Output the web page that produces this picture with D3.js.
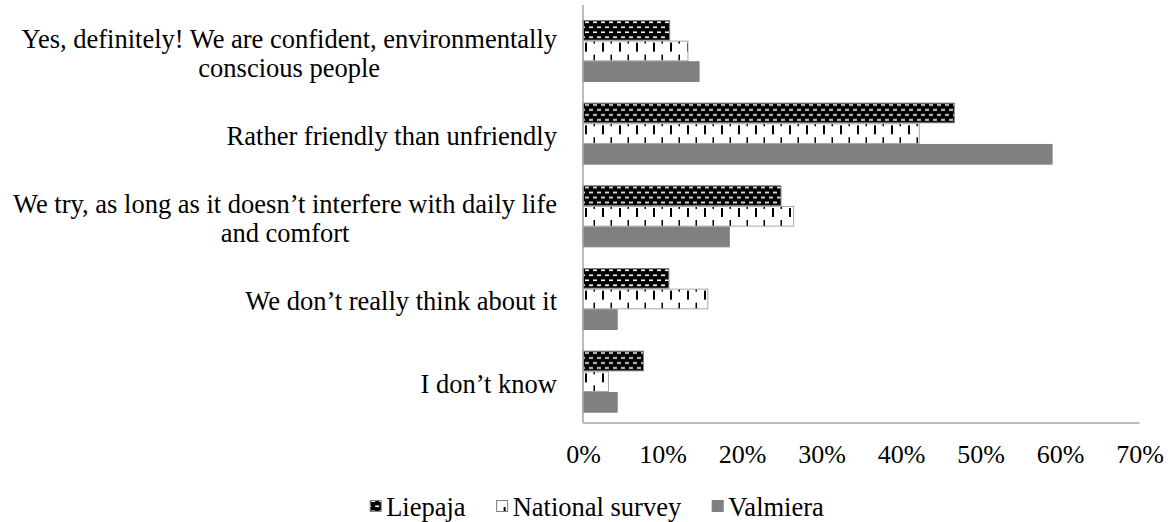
<!DOCTYPE html>
<html>
<head>
<meta charset="utf-8">
<script src="https://cdn.jsdelivr.net/npm/d3@7"></script>
<style>
  html, body { margin: 0; padding: 0; background: #fff; }
  svg { display: block; }
</style>
</head>
<body>
<svg id="chart" width="1168" height="522"></svg>
<script>
// Answer categories, top to bottom (each entry is a list of text lines)
const categories = [
  ["Yes, definitely! We are confident, environmentally", "conscious people"],
  ["Rather friendly than unfriendly"],
  ["We try, as long as it doesn\u2019t interfere with daily life", "and comfort"],
  ["We don\u2019t really think about it"],
  ["I don\u2019t know"]
];
const seriesNames = ["Liepaja", "National survey", "Valmiera"];
// Shares of respondents, in percent
const liepaja  = [10.9, 46.7, 24.9, 10.8, 7.6];
const national = [13.2, 42.3, 26.5, 15.7, 3.2];
const valmiera = [14.6, 59.0, 18.4, 4.3, 4.3];
const xTicks = [0, 10, 20, 30, 40, 50, 60, 70];

const seriesValues = [liepaja, national, valmiera];
const FONT = "'Liberation Serif', 'Times New Roman', Tinos, 'DejaVu Serif', serif";

const svg = d3.select("#chart").style("font-family", FONT);
const defs = svg.append("defs");

const plot = { left: 583, right: 1139.5, top: 9.6, bottom: 423 };

const x = d3.scaleLinear().domain([0, 70]).range([plot.left, plot.right]);
const y = d3.scaleBand().domain(d3.range(categories.length))
  .range([plot.top, plot.bottom]).paddingInner(0.25).paddingOuter(0.125);
const ys = d3.scaleBand().domain(d3.range(seriesNames.length))
  .range([0, y.bandwidth()]);

// Fill patterns: white dashes on black (brick-like) and black dashes on white
function brickPattern(id, offY) {
  const p = defs.append("pattern").attr("id", id)
    .attr("patternUnits", "userSpaceOnUse")
    .attr("x", 0).attr("y", offY).attr("width", 8).attr("height", 10);
  p.append("rect").attr("width", 8).attr("height", 10).attr("fill", "#000");
  p.append("rect").attr("x", 1).attr("y", 1.5).attr("width", 4).attr("height", 1.6).attr("fill", "#fff");
  p.append("rect").attr("x", 5).attr("y", 6.5).attr("width", 3).attr("height", 1.6).attr("fill", "#fff");
  p.append("rect").attr("x", 0).attr("y", 6.5).attr("width", 1).attr("height", 1.6).attr("fill", "#fff");
}
function dashPattern(id, offY) {
  const p = defs.append("pattern").attr("id", id)
    .attr("patternUnits", "userSpaceOnUse")
    .attr("x", 0).attr("y", offY).attr("width", 17).attr("height", 20);
  p.append("rect").attr("width", 17).attr("height", 20).attr("fill", "#fff");
  p.append("rect").attr("x", 7).attr("y", 3).attr("width", 2).attr("height", 9).attr("fill", "#000");
  p.append("rect").attr("x", 15.5).attr("y", 15).attr("width", 2).attr("height", 9).attr("fill", "#000");
  p.append("rect").attr("x", 15.5).attr("y", -5).attr("width", 2).attr("height", 9).attr("fill", "#000");
}

categories.forEach((c, i) => {
  brickPattern("brick" + i, y(i) + ys(0));
  dashPattern("dash" + i, y(i) + ys(1) - 1);
});
brickPattern("brickLegend", 502);
dashPattern("dashLegend", 497);

function fillFor(s, i) {
  if (s === 0) return `url(#brick${i})`;
  if (s === 1) return `url(#dash${i})`;
  return "#808080";
}
const strokeFor = ["#7f7f7f", "#a6a6a6", "#808080"];

// Bars
const rows = [];
seriesValues.forEach((vals, s) => vals.forEach((v, i) => rows.push({ s, i, v })));

svg.append("g").selectAll("rect").data(rows).join("rect")
  .attr("x", x(0))
  .attr("y", d => y(d.i) + ys(d.s) + 0.5)
  .attr("width", d => x(d.v) - x(0))
  .attr("height", ys.bandwidth() - 1)
  .attr("fill", d => fillFor(d.s, d.i))
  .attr("stroke", d => strokeFor[d.s])
  .attr("stroke-width", 1);

// Axis lines
svg.append("line")
  .attr("x1", x(0)).attr("x2", x(0)).attr("y1", 5).attr("y2", plot.bottom)
  .attr("stroke", "#a6a6a6").attr("stroke-width", 1.5);
svg.append("line")
  .attr("x1", x(0)).attr("x2", x(70)).attr("y1", plot.bottom).attr("y2", plot.bottom)
  .attr("stroke", "#a6a6a6").attr("stroke-width", 1.5);

// X tick labels
const xAxis = d3.axisBottom(x).tickValues(xTicks).tickFormat(d => d + "%").tickSize(0).tickPadding(0);
const gx = svg.append("g").attr("transform", `translate(0,${plot.bottom})`).call(xAxis);
gx.attr("font-family", FONT).attr("font-size", 26);
gx.select(".domain").remove();
gx.selectAll("text")
  .attr("y", 31).attr("dy", "0.35em")
  .attr("fill", "#000");

// Category labels: multi-line blocks, centered within block, block right-aligned
const labelRight = 557;
const lineH = 29;
const lg = svg.append("g").attr("font-family", FONT).attr("font-size", 26.5);
categories.forEach((lines, i) => {
  const cy = y(i) + y.bandwidth() / 2 + 2;
  const g = lg.append("g");
  const texts = lines.map((t, k) => g.append("text")
    .attr("y", cy + (k - (lines.length - 1) / 2) * lineH)
    .attr("dy", "0.35em")
    .text(t));
  const widths = texts.map(t => t.node().getComputedTextLength());
  const maxW = d3.max(widths);
  const center = labelRight - maxW / 2;
  texts.forEach(t => t.attr("x", center).attr("text-anchor", "middle"));
});

// Legend, laid out from measured text widths and centred under the chart
const legendItems = [
  { name: seriesNames[0], fill: "url(#brickLegend)", stroke: "#7f7f7f" },
  { name: seriesNames[1], fill: "url(#dashLegend)", stroke: "#7f7f7f" },
  { name: seriesNames[2], fill: "#808080", stroke: "#808080" }
];
const legendY = 507;
const markerSize = 11, markerGap = 5, itemGap = 31, legendCenter = 597;
const leg = svg.append("g").attr("font-family", FONT).attr("font-size", 26.5);
const items = legendItems.map(it => {
  const g = leg.append("g");
  g.append("rect").attr("x", 0).attr("y", -markerSize / 2 - 1).attr("width", markerSize).attr("height", markerSize)
    .attr("fill", it.fill).attr("stroke", it.stroke).attr("stroke-width", 1);
  const t = g.append("text").attr("x", markerSize + markerGap).attr("dy", "0.35em").text(it.name);
  return { g, w: markerSize + markerGap + t.node().getComputedTextLength() };
});
const totalW = d3.sum(items, d => d.w) + itemGap * (items.length - 1);
let cx = legendCenter - totalW / 2;
items.forEach(d => {
  d.g.attr("transform", `translate(${cx},${legendY})`);
  cx += d.w + itemGap;
});
</script>
</body>
</html>
